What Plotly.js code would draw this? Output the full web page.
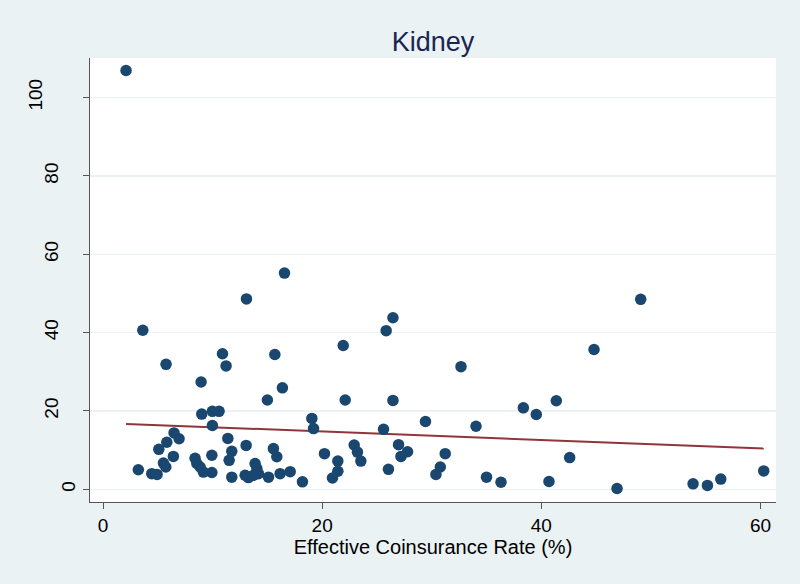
<!DOCTYPE html>
<html>
<head>
<meta charset="utf-8">
<script src="https://cdn.plot.ly/plotly-3.0.1.min.js"></script>
<style>
  html, body { margin: 0; padding: 0; background: #eaf2f3; }
  #chart { width: 800px; height: 584px; }
</style>
</head>
<body>
<div id="chart"></div>
<script>
// Effective coinsurance rate (%) for each observation
var coinsRate = [
  2.10, 3.63, 5.75, 13.09, 16.56, 10.90, 11.23, 15.68, 8.95, 16.37,
  15.00, 9.01, 9.98, 10.59, 9.98, 19.06, 19.21, 6.48, 6.94, 5.82,
  5.09, 6.42, 5.51, 5.73, 3.22, 4.45, 4.93, 8.40, 8.56, 8.86,
  9.16, 9.93, 9.93, 11.39, 11.75, 11.51, 11.75, 13.06, 12.97, 13.27,
  13.73, 13.88, 14.04, 14.18, 15.10, 15.55, 15.86, 16.16, 17.08, 18.20,
  20.21, 21.43, 21.43, 20.94, 21.92, 22.10, 26.46, 25.84, 26.46, 32.67,
  38.36, 39.54, 29.43, 34.04, 25.60, 22.92, 23.22, 23.53, 26.97, 27.79,
  27.19, 26.05, 31.23, 30.78, 30.38, 35.00, 36.32, 40.70, 49.07, 44.81,
  41.37, 42.59, 46.91, 53.85, 55.16, 56.38, 60.30
];
// Outcome value for each observation
var outcome = [
  106.9, 40.6, 31.9, 48.6, 55.2, 34.6, 31.5, 34.4, 27.4, 25.9,
  22.8, 19.2, 19.9, 19.9, 16.3, 18.1, 15.5, 14.4, 12.9, 12.0,
  10.2, 8.4, 6.7, 5.7, 5.0, 4.0, 3.8, 7.9, 6.6, 5.7,
  4.4, 8.7, 4.3, 13.0, 9.7, 7.4, 3.1, 11.2, 3.6, 3.0,
  3.6, 6.6, 5.3, 4.0, 3.1, 10.4, 8.3, 4.0, 4.5, 1.9,
  9.1, 7.2, 4.6, 2.9, 36.7, 22.8, 43.8, 40.5, 22.7, 31.3,
  20.8, 19.1, 17.3, 16.1, 15.3, 11.3, 9.5, 7.2, 11.4, 9.6,
  8.4, 5.1, 9.1, 5.7, 3.8, 3.1, 1.8, 2.0, 48.5, 35.7,
  22.6, 8.1, 0.2, 1.4, 1.0, 2.6, 4.7
];
// Linear fit line end points
var fitX = [2.10, 60.30];
var fitY = [16.7, 10.4];

var xTicks = [0, 20, 40, 60];
var yTicks = [0, 20, 40, 60, 80, 100];

var titleText = 'Kidney';
var xTitle = 'Effective Coinsurance Rate (%)';

var fontFam = 'Liberation Sans, Arial, sans-serif';
var yRange = [-3.24, 110.1];

var traces = [
  {
    x: fitX, y: fitY, type: 'scatter', mode: 'lines',
    line: { color: '#90353b', width: 2 },
    hoverinfo: 'skip', showlegend: false
  },
  {
    x: coinsRate, y: outcome, type: 'scatter', mode: 'markers',
    marker: { color: '#1a476f', size: 11.5, line: { width: 0 } },
    showlegend: false
  }
];

var layout = {
  width: 800, height: 584,
  paper_bgcolor: '#eaf2f3',
  plot_bgcolor: '#ffffff',
  margin: { l: 90, r: 24, t: 58, b: 82, pad: 0 },
  font: { family: fontFam, color: '#000000', size: 18 },
  title: {
    text: titleText,
    font: { family: fontFam, size: 27, color: '#1a2552' },
    x: 0.5, xanchor: 'center', xref: 'paper',
    y: 1 - 42 / 584, yref: 'container', yanchor: 'middle'
  },
  xaxis: {
    range: [-1.19, 61.42],
    tickmode: 'array', tickvals: xTicks, ticktext: xTicks.map(String),
    ticks: 'outside', ticklen: 6, tickwidth: 1, tickcolor: '#555555',
    showline: true, linecolor: '#555555', linewidth: 1,
    showgrid: false, zeroline: false,
    tickfont: { family: fontFam, size: 19, color: '#000000' },
    title: { text: xTitle, font: { family: fontFam, size: 20, color: '#000000' }, standoff: 4 }
  },
  yaxis: {
    range: yRange,
    tickmode: 'array', tickvals: yTicks, ticktext: yTicks.map(String),
    showticklabels: false,
    ticks: 'outside', ticklen: 6, tickwidth: 1, tickcolor: '#555555',
    showline: true, linecolor: '#555555', linewidth: 1,
    showgrid: true, gridcolor: '#eaf2f3', gridwidth: 1.5,
    zeroline: false
  }
};

// Stata-style rotated y labels: offset grows with label length
var lengths = [];
yTicks.forEach(function (v) {
  var n = String(v).length;
  if (lengths.indexOf(n) < 0) lengths.push(n);
});
lengths.forEach(function (n, i) {
  var name = 'yaxis' + (i + 2);
  var vals = yTicks.filter(function (v) { return String(v).length === n; });
  layout[name] = {
    range: yRange, overlaying: 'y', anchor: 'x', side: 'left',
    tickmode: 'array', tickvals: vals, ticktext: vals.map(String),
    tickangle: -90, ticks: 'outside', ticklen: 6, tickcolor: 'rgba(0,0,0,0)',
    ticklabelstandoff: Math.round(16.5 * (n - 1)),
    showline: false, showgrid: false, zeroline: false,
    tickfont: { family: fontFam, size: 19, color: '#000000' }
  };
  traces.push({
    x: [], y: [], type: 'scatter', mode: 'markers',
    yaxis: 'y' + (i + 2), showlegend: false, hoverinfo: 'skip'
  });
});

Plotly.newPlot('chart', traces, layout, { displayModeBar: false, staticPlot: true });
</script>
</body>
</html>
